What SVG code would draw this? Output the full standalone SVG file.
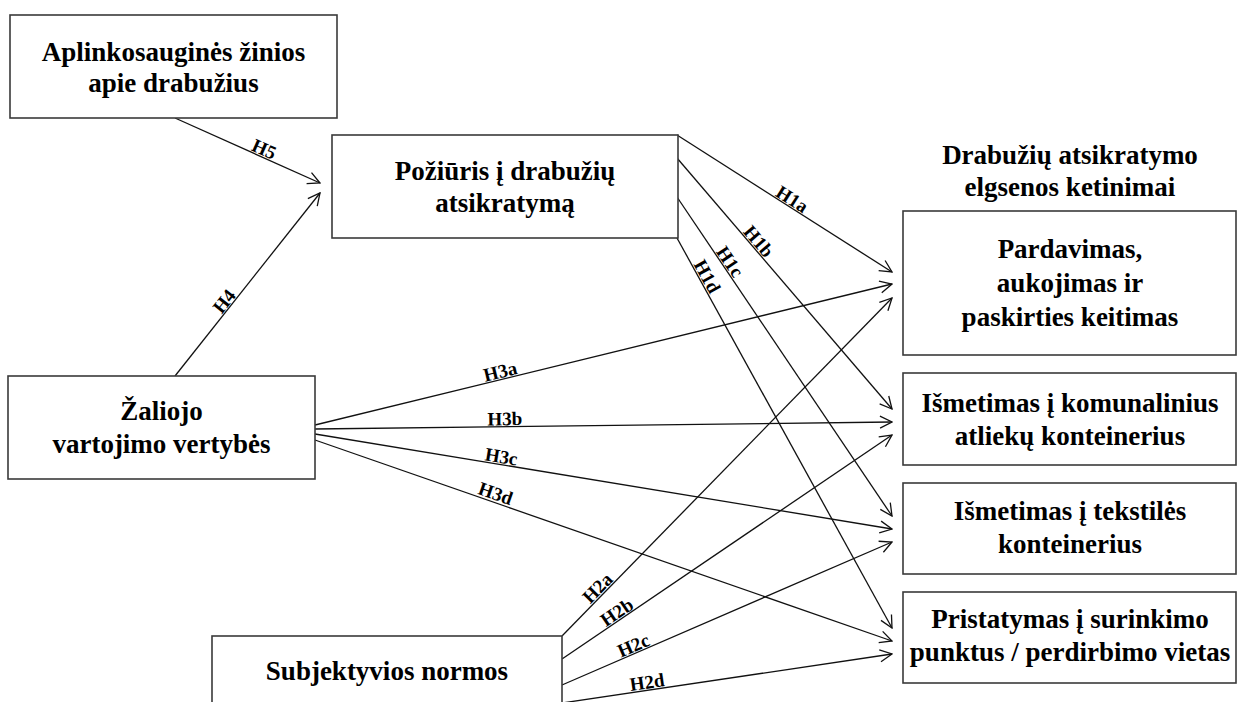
<svg xmlns="http://www.w3.org/2000/svg" width="1238" height="702" viewBox="0 0 1238 702">
<style>
.box{fill:#fff;stroke:#3a3a3a;stroke-width:1.6}
.nt{font-family:"Liberation Serif","Times New Roman",serif;font-weight:bold;font-size:27px;fill:#000;text-anchor:middle}
.ln{stroke:#111;stroke-width:1.3;fill:none;marker-end:url(#arr)}
.lb{font-family:"Liberation Serif","Times New Roman",serif;font-weight:bold;font-size:19px;fill:#000;text-anchor:middle}
</style>
<defs>
<marker id="arr" markerUnits="userSpaceOnUse" markerWidth="14" markerHeight="14" viewBox="0 0 14 14" refX="13" refY="7" orient="auto">
<path d="M1,1 L13,7 L1,13" fill="none" stroke="#111" stroke-width="1.3"/>
</marker>
</defs>
<rect width="1238" height="702" fill="#fff"/>

<g id="connectors">
<g id="e-H5"><line class="ln" x1="175" y1="118" x2="320" y2="183"/><text class="lb" transform="translate(261.6,155) rotate(24.1)">H5</text></g>
<g id="e-H4"><line class="ln" x1="175" y1="376" x2="320" y2="193"/><text class="lb" transform="translate(229.2,305.2) rotate(-51.6)">H4</text></g>
<g id="e-H1a"><line class="ln" x1="677" y1="135" x2="892" y2="272"/><text class="lb" transform="translate(788.8,204.6) rotate(32.5)">H1a</text></g>
<g id="e-H1b"><line class="ln" x1="677" y1="158" x2="892" y2="409"/><text class="lb" transform="translate(753.9,245.5) rotate(49.4)">H1b</text></g>
<g id="e-H1c"><line class="ln" x1="677" y1="197" x2="892" y2="516"/><text class="lb" transform="translate(724.7,265.2) rotate(56)">H1c</text></g>
<g id="e-H1d"><line class="ln" x1="677" y1="238" x2="892" y2="628"/><text class="lb" transform="translate(701.6,279.5) rotate(61.1)">H1d</text></g>
<g id="e-H3a"><line class="ln" x1="315" y1="425" x2="892" y2="284"/><text class="lb" transform="translate(501.7,377.8) rotate(-13.7)">H3a</text></g>
<g id="e-H3b"><line class="ln" x1="315" y1="429" x2="892" y2="422"/><text class="lb" transform="translate(505,425.2) rotate(-0.7)">H3b</text></g>
<g id="e-H3c"><line class="ln" x1="315" y1="434" x2="892" y2="529"/><text class="lb" transform="translate(500.3,463) rotate(9.35)">H3c</text></g>
<g id="e-H3d"><line class="ln" x1="315" y1="440" x2="892" y2="641"/><text class="lb" transform="translate(493.5,499.5) rotate(19.2)">H3d</text></g>
<g id="e-H2a"><line class="ln" x1="562" y1="636" x2="892" y2="298"/><text class="lb" transform="translate(602,592.5) rotate(-45.7)">H2a</text></g>
<g id="e-H2b"><line class="ln" x1="562" y1="659" x2="892" y2="435"/><text class="lb" transform="translate(620.5,617.5) rotate(-34.2)">H2b</text></g>
<g id="e-H2c"><line class="ln" x1="562" y1="685" x2="892" y2="542"/><text class="lb" transform="translate(636,651.3) rotate(-23.4)">H2c</text></g>
<g id="e-H2d"><line class="ln" x1="562" y1="703" x2="892" y2="654"/><text class="lb" transform="translate(648,688.5) rotate(-8.4)">H2d</text></g>
</g>

<g id="n-aplinkosaugines">
<rect class="box" x="10" y="15" width="327" height="103"/>
<text class="nt" x="173.5" y="61">Aplinkosauginės žinios</text>
<text class="nt" x="173.5" y="92">apie drabužius</text>
</g>
<g id="n-poziuris">
<rect class="box" x="332" y="135" width="346" height="103"/>
<text class="nt" x="505" y="180">Požiūris į drabužių</text>
<text class="nt" x="505" y="212">atsikratymą</text>
</g>
<g id="n-zaliojo">
<rect class="box" x="8" y="376" width="307" height="103"/>
<text class="nt" x="161.5" y="420">Žaliojo</text>
<text class="nt" x="161.5" y="453">vartojimo vertybės</text>
</g>
<g id="n-subjektyvios">
<rect class="box" x="212" y="636" width="350" height="100"/>
<text class="nt" x="387" y="680">Subjektyvios normos</text>
</g>
<g id="title-ketinimai">
<text class="nt" x="1070" y="164">Drabužių atsikratymo</text>
<text class="nt" x="1070" y="196">elgsenos ketinimai</text>
</g>
<g id="n-pardavimas">
<rect class="box" x="903" y="211" width="333" height="144"/>
<text class="nt" x="1070" y="258">Pardavimas,</text>
<text class="nt" x="1070" y="292">aukojimas ir</text>
<text class="nt" x="1070" y="326">paskirties keitimas</text>
</g>
<g id="n-komunaliniai">
<rect class="box" x="903" y="373" width="333" height="92"/>
<text class="nt" x="1070" y="412">Išmetimas į komunalinius</text>
<text class="nt" x="1070" y="445">atliekų konteinerius</text>
</g>
<g id="n-tekstiles">
<rect class="box" x="903" y="483" width="333" height="91"/>
<text class="nt" x="1070" y="520">Išmetimas į tekstilės</text>
<text class="nt" x="1070" y="553">konteinerius</text>
</g>
<g id="n-pristatymas">
<rect class="box" x="903" y="592" width="333" height="91"/>
<text class="nt" x="1070" y="628">Pristatymas į surinkimo</text>
<text class="nt" x="1070" y="661">punktus / perdirbimo vietas</text>
</g>
</svg>
